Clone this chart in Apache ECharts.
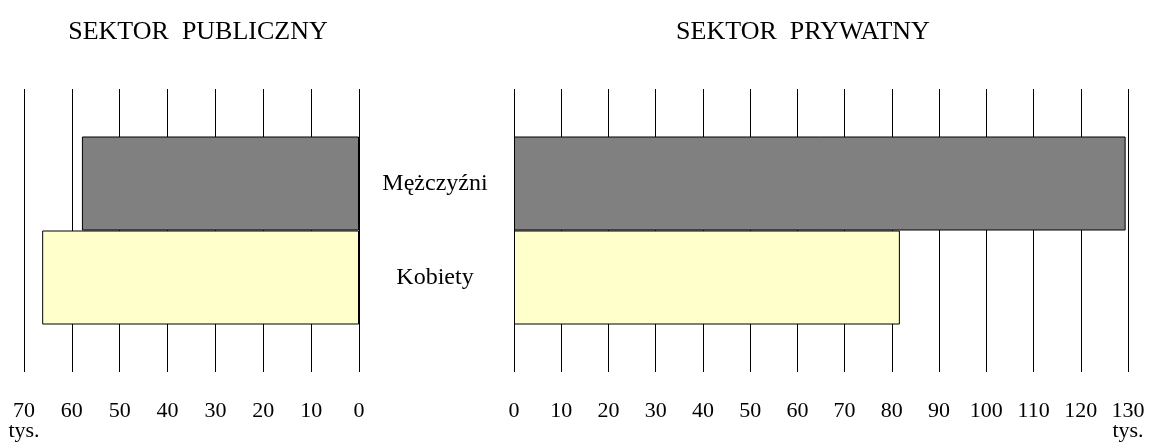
<!DOCTYPE html>
<html>
<head>
<meta charset="utf-8">
<script src="https://cdn.jsdelivr.net/npm/echarts@6/dist/echarts.min.js"></script>
<style>
html,body{margin:0;padding:0;background:#fff;}
#chart{width:1149px;height:448px;}
</style>
</head>
<body>
<div id="chart"></div>
<script>
var groups = ['Mężczyźni', 'Kobiety'];
var publicValues = [57.9, 66.2];
var privateValues = [129.5, 81.7];
var publicTicks = { min: 0, max: 70, interval: 10 };
var privateTicks = { min: 0, max: 130, interval: 10 };
var titles = ['SEKTOR  PUBLICZNY', 'SEKTOR  PRYWATNY'];
var unit = 'tys.';

var FONT = 'Liberation Serif';
var colors = ['#808080', '#FFFFCC'];

var chart = echarts.init(document.getElementById('chart'), null, { renderer: 'canvas' });

function xAxisFor(gridIndex, ticks, inverse) {
  return {
    type: 'value', gridIndex: gridIndex, min: ticks.min, max: ticks.max, interval: ticks.interval,
    inverse: inverse,
    axisLine: { show: false }, axisTick: { show: false },
    splitLine: { show: true, lineStyle: { color: '#000', width: 1 } },
    axisLabel: {
      margin: 29, color: '#000', fontFamily: FONT, fontSize: 22, lineHeight: 20,
      formatter: function (v) { return v === ticks.max ? v + '\n' + unit : String(v); }
    }
  };
}

function yAxisFor(gridIndex) {
  return { type: 'category', gridIndex: gridIndex, data: ['all'], show: false,
    axisLine: { show: false }, axisTick: { show: false }, axisLabel: { show: false }, splitLine: { show: false } };
}

var series = [];
groups.forEach(function (g, i) {
  series.push({
    name: g, type: 'bar', xAxisIndex: 0, yAxisIndex: 0, data: [publicValues[i]],
    barWidth: 94, barGap: '0%',
    itemStyle: { color: colors[i], borderColor: '#000', borderWidth: 1 },
    silent: true
  });
});
groups.forEach(function (g, i) {
  series.push({
    name: g, type: 'bar', xAxisIndex: 1, yAxisIndex: 1, data: [privateValues[i]],
    barWidth: 94, barGap: '0%',
    itemStyle: { color: colors[i], borderColor: '#000', borderWidth: 1 },
    label: {
      show: true, position: [-79, '50%'], align: 'center', verticalAlign: 'middle',
      formatter: '{a}', color: '#000', fontFamily: FONT, fontSize: 24
    },
    silent: true
  });
});

chart.setOption({
  animation: false,
  backgroundColor: '#fff',
  title: [
    { text: titles[0], left: 193, top: 14, textAlign: 'center',
      textStyle: { fontFamily: FONT, fontSize: 26, fontWeight: 'normal', color: '#000' } },
    { text: titles[1], left: 798, top: 14, textAlign: 'center',
      textStyle: { fontFamily: FONT, fontSize: 26, fontWeight: 'normal', color: '#000' } }
  ],
  grid: [
    { left: 24, right: 790, top: 89, bottom: 76 },
    { left: 514, right: 21, top: 89, bottom: 76 }
  ],
  xAxis: [xAxisFor(0, publicTicks, true), xAxisFor(1, privateTicks, false)],
  yAxis: [yAxisFor(0), yAxisFor(1)],
  series: series
});
</script>
</body>
</html>
